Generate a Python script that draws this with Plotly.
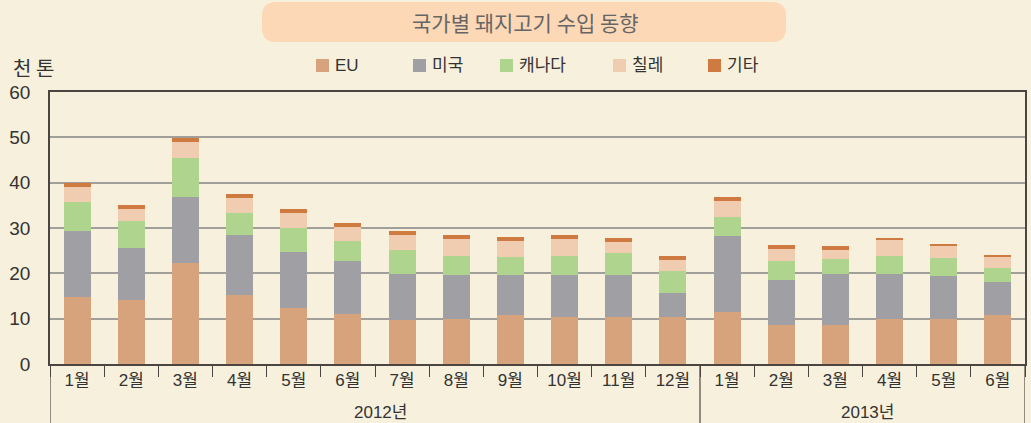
import plotly.graph_objects as go

# ---- data ----
years = ["2012년"] * 12 + ["2013년"] * 6
months = ["1월", "2월", "3월", "4월", "5월", "6월", "7월", "8월", "9월", "10월", "11월", "12월",
          "1월", "2월", "3월", "4월", "5월", "6월"]
year_labels = ["2012년", "2013년"]
eu = [14.8, 14.2, 22.3, 15.3, 12.4, 11.1, 9.8, 10.0, 10.7, 10.4, 10.4, 10.4,
      11.5, 8.7, 8.7, 10.0, 10.0, 10.9]
usa = [14.5, 11.4, 14.5, 13.2, 12.3, 11.6, 10.1, 9.7, 9.0, 9.3, 9.3, 5.3,
       16.7, 9.9, 11.2, 9.9, 9.5, 7.2]
canada = [6.4, 5.9, 8.6, 4.8, 5.3, 4.4, 5.3, 4.1, 3.9, 4.1, 4.8, 4.8,
          4.2, 4.1, 3.3, 3.9, 3.9, 3.1]
chile = [3.3, 2.7, 3.5, 3.3, 3.3, 3.1, 3.3, 3.8, 3.5, 3.8, 2.4, 2.5,
         3.5, 2.7, 2.0, 3.6, 2.6, 2.4]
other = [0.9, 0.9, 0.9, 0.9, 0.9, 0.9, 0.8, 0.8, 0.9, 0.8, 0.9, 0.8,
         0.9, 0.9, 0.8, 0.4, 0.5, 0.5]

series_names = ["EU", "미국", "캐나다", "칠레", "기타"]
series_values = [eu, usa, canada, chile, other]
colors = ["#D7A37C", "#A0A0A4", "#AED48E", "#F0CDB0", "#CF7A40"]

title_text = "국가별 돼지고기 수입 동향"
unit_text = "천 톤"

# unique category keys (year + month), displayed as month only
cats = [f"{y} {m}" for y, m in zip(years, months)]

# ---- layout geometry (pixels) ----
W, H = 1031, 423
ML, MR, MT, MB = 50, 6, 92, 59
PW = W - ML - MR
PH = H - MT - MB

def px(x):
    return (x - ML) / PW

def py(y):
    return (H - MB - y) / PH

BG = "#F7F0DC"
FONT = "Liberation Sans, Noto Sans CJK KR, sans-serif"
LINE = "#4a4540"

fig = go.Figure()
for name, vals, col in zip(series_names, series_values, colors):
    fig.add_trace(go.Bar(x=cats, y=vals, name=name,
                         marker=dict(color=col, line=dict(width=0)),
                         showlegend=False))

shapes = []
annotations = []

# title box with rounded corners
x0, x1, y0, y1, r = 262, 786, 2, 42, 14
path = (f"M {px(x0 + r)},{py(y0)} L {px(x1 - r)},{py(y0)} "
        f"Q {px(x1)},{py(y0)} {px(x1)},{py(y0 + r)} "
        f"L {px(x1)},{py(y1 - r)} Q {px(x1)},{py(y1)} {px(x1 - r)},{py(y1)} "
        f"L {px(x0 + r)},{py(y1)} Q {px(x0)},{py(y1)} {px(x0)},{py(y1 - r)} "
        f"L {px(x0)},{py(y0 + r)} Q {px(x0)},{py(y0)} {px(x0 + r)},{py(y0)} Z")
shapes.append(dict(type="path", path=path, xref="paper", yref="paper",
                   fillcolor="#FDD8B6", line=dict(width=0), layer="below"))
annotations.append(dict(text=title_text, x=px(525), y=py(22), xref="paper", yref="paper",
                        showarrow=False, xanchor="center", yanchor="middle",
                        font=dict(size=21, color="#666666", family="Noto Sans CJK KR")))
annotations.append(dict(text=unit_text, x=px(11), y=py(67), xref="paper", yref="paper",
                        showarrow=False, xanchor="left", yanchor="middle",
                        font=dict(size=20, color="#333333", family="Noto Sans CJK KR")))

# manual legend
legend_x = [316, 413, 500, 613, 708]
for name, col, lx in zip(series_names, colors, legend_x):
    shapes.append(dict(type="rect", xref="paper", yref="paper",
                       x0=px(lx), x1=px(lx + 13), y0=py(59), y1=py(72),
                       fillcolor=col, line=dict(width=0)))
    annotations.append(dict(text=name, x=px(lx + 17), y=py(66), xref="paper", yref="paper",
                            showarrow=False, xanchor="left", yanchor="middle",
                            font=dict(size=17, color="#333333", family=FONT)))

# year group labels and dividers
n12 = years.count("2012년")
n13 = years.count("2013년")
group_edges = [-0.5, n12 - 0.5, n12 + n13 - 0.5]
for ge in group_edges:
    shapes.append(dict(type="line", xref="x", yref="paper", x0=ge, x1=ge,
                       y0=0, y1=py(H), line=dict(color=LINE, width=1.2)))
group_centers = [(n12 - 1) / 2 + 0.1, n12 + (n13 - 1) / 2 + 0.1]
for lbl, gc in zip(year_labels, group_centers):
    annotations.append(dict(text=lbl, x=gc, y=py(412), xref="x", yref="paper",
                            showarrow=False, xanchor="center", yanchor="middle",
                            font=dict(size=17, color="#333333", family=FONT)))

fig.update_layout(
    width=W, height=H,
    margin=dict(l=ML, r=MR, t=MT, b=MB, pad=0),
    paper_bgcolor=BG, plot_bgcolor=BG,
    barmode="stack", bargap=0.5,
    font=dict(family=FONT, size=17, color="#333333"),
    shapes=shapes, annotations=annotations,
    xaxis=dict(type="category", automargin=False, showline=True, linecolor=LINE, linewidth=1.5,
               mirror=True, ticks="outside", tickson="boundaries", ticklen=11,
               tickcolor="#4a4540", tickwidth=1,
               tickvals=cats, ticktext=months,
               range=[-0.5, len(cats) - 0.5],
               tickfont=dict(size=17, color="#333333")),
    yaxis=dict(range=[0, 60], dtick=10, showgrid=True, gridcolor="#A19F99", gridwidth=1.5,
               automargin=False,
               showline=True, linecolor=LINE, linewidth=1.5, mirror=True,
               zeroline=False, ticks="", ticklabelstandoff=14,
               tickfont=dict(size=19, color="#333333")),
)

fig.write_html("out.html",
               config={"displayModeBar": False},
               post_script="document.body.style.margin='0';"
                           "document.body.style.overflow='hidden';"
                           "document.body.style.background='" + BG + "';")
